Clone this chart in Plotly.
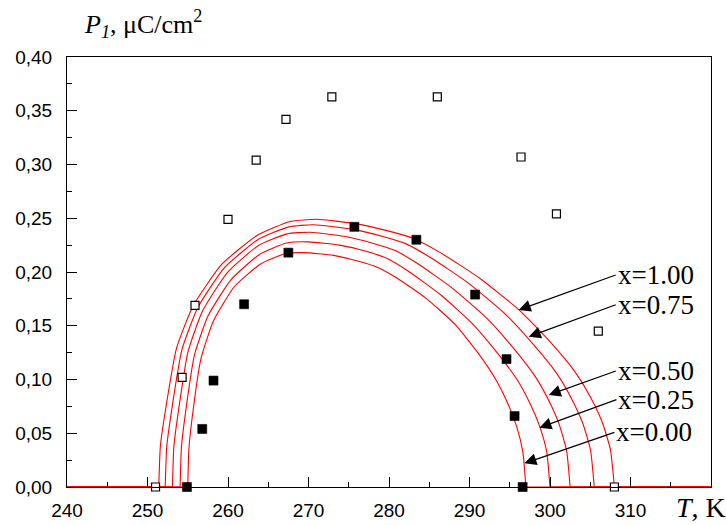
import plotly.graph_objects as go

# ---- data ----
open_T = [251.0, 254.3, 255.9, 260.0, 263.5, 267.2, 272.9, 286.0, 296.4, 300.8, 306.0, 308.0]
open_P = [0.000, 0.102, 0.169, 0.249, 0.304, 0.342, 0.363, 0.363, 0.307, 0.254, 0.145, 0.000]

fill_T = [254.9, 256.8, 258.2, 262.0, 267.5, 275.7, 283.4, 290.7, 294.6, 295.6, 296.6]
fill_P = [0.000, 0.054, 0.099, 0.170, 0.218, 0.242, 0.230, 0.179, 0.119, 0.066, 0.000]

c100_T = [240.0, 251.40, 251.60, 252.20, 253.60, 255.70, 259.21, 263.60, 267.70, 270.98, 275.79, 279.98,
          283.10, 286.38, 291.30, 296.11, 300.02, 303.02, 305.00, 306.50, 307.50, 308.00, 320.0]
c100_P = [0.0, 0.0, 0.038, 0.070, 0.129, 0.169, 0.207, 0.234, 0.247, 0.249, 0.245, 0.238,
          0.231, 0.218, 0.194, 0.165, 0.135, 0.108, 0.084, 0.060, 0.035, 0.0, 0.0]

c075_T = [240.0, 252.20, 252.39, 252.95, 254.27, 256.25, 259.56, 263.69, 267.55, 270.64, 275.17, 279.12,
          282.05, 285.14, 289.78, 294.31, 297.98, 300.81, 302.68, 304.09, 305.03, 305.50, 320.0]
c075_P = [0.0, 0.0, 0.0373, 0.0690, 0.1275, 0.1670, 0.2040, 0.2300, 0.2420, 0.2440, 0.2401, 0.2333,
          0.2264, 0.2135, 0.1901, 0.1618, 0.1322, 0.1059, 0.0822, 0.0588, 0.0344, 0.0, 0.0]

c050_T = [240.0, 253.10, 253.27, 253.80, 255.02, 256.85, 259.92, 263.75, 267.33, 270.19, 274.39, 278.05,
          280.76, 283.63, 287.93, 292.13, 295.53, 298.15, 299.88, 301.19, 302.07, 302.50, 320.0]
c050_P = [0.0, 0.0, 0.0370, 0.0685, 0.1255, 0.1640, 0.1995, 0.2245, 0.2355, 0.2370, 0.2332, 0.2266,
          0.2199, 0.2074, 0.1846, 0.1571, 0.1285, 0.1029, 0.0799, 0.0571, 0.0334, 0.0, 0.0]

c025_T = [240.0, 254.05, 254.21, 254.70, 255.84, 257.54, 260.39, 263.95, 267.28, 269.95, 273.85, 277.25,
          279.78, 282.45, 286.44, 290.35, 293.52, 295.96, 297.56, 298.78, 299.60, 300.00, 320.0]
c025_P = [0.0, 0.0, 0.0365, 0.0680, 0.1230, 0.1595, 0.1930, 0.2165, 0.2270, 0.2280, 0.2250, 0.2190,
          0.2126, 0.2005, 0.1786, 0.1520, 0.1240, 0.0993, 0.0770, 0.0550, 0.0322, 0.0, 0.0]

c000_T = [240.0, 255.00, 255.15, 255.59, 256.63, 258.19, 260.80, 264.05, 267.10, 269.53, 273.10, 276.21,
          278.52, 280.96, 284.61, 288.18, 291.08, 293.30, 294.77, 295.89, 296.63, 297.00, 320.0]
c000_P = [0.0, 0.0, 0.0360, 0.0670, 0.1190, 0.1545, 0.1865, 0.2075, 0.2170, 0.2180, 0.2155, 0.2100,
          0.2045, 0.1945, 0.1755, 0.1515, 0.1245, 0.0995, 0.0775, 0.0555, 0.0325, 0.0, 0.0]

x_ticks = [240, 250, 260, 270, 280, 290, 300, 310]
y_ticks = [0.0, 0.05, 0.10, 0.15, 0.20, 0.25, 0.30, 0.35, 0.40]
y_labels = ["0,00", "0,05", "0,10", "0,15", "0,20", "0,25", "0,30", "0,35", "0,40"]

curve_labels = ["x=1.00", "x=0.75", "x=0.50", "x=0.25", "x=0.00"]
arrow_tip_T = [296.11, 297.36, 299.85, 298.69, 296.82]
arrow_tip_P = [0.1647, 0.1398, 0.0856, 0.0552, 0.0220]

# ---- figure ----
fig = go.Figure()
red_line = dict(color="#ff0000", width=1.1)
for T, P in [(c100_T, c100_P), (c075_T, c075_P), (c050_T, c050_P), (c025_T, c025_P), (c000_T, c000_P)]:
    # zero segments below T1 and above T2
    fig.add_trace(go.Scatter(x=T[:2], y=P[:2], mode="lines", line=red_line, showlegend=False, hoverinfo="skip"))
    fig.add_trace(go.Scatter(x=T[-2:], y=P[-2:], mode="lines", line=red_line, showlegend=False, hoverinfo="skip"))
    # polar phase arc
    fig.add_trace(go.Scatter(x=T[1:-1], y=P[1:-1], mode="lines",
                             line=dict(color="#ff0000", width=1.1, shape="spline", smoothing=0.5),
                             showlegend=False, hoverinfo="skip"))

fig.add_trace(go.Scatter(x=open_T, y=open_P, mode="markers", cliponaxis=False, showlegend=False,
                         marker=dict(symbol="square", size=8, color="white", line=dict(color="black", width=1.2))))
fig.add_trace(go.Scatter(x=fill_T, y=fill_P, mode="markers", cliponaxis=False, showlegend=False,
                         marker=dict(symbol="square", size=9, color="black", line=dict(color="black", width=0.6))))

tick_font = dict(family="Liberation Sans, Arial, sans-serif", size=19, color="black")
fig.update_xaxes(range=[240, 320], tickmode="array", tickvals=x_ticks, ticktext=[str(v) for v in x_ticks],
                 ticks="inside", ticklen=10, tickwidth=1, tickcolor="black",
                 minor=dict(tickmode="array", tickvals=[245, 255, 265, 275, 285, 295, 305, 315],
                            ticks="inside", ticklen=5, tickwidth=1, tickcolor="black"),
                 showline=True, linecolor="black", linewidth=1, mirror=True, showgrid=False, zeroline=False,
                 tickfont=tick_font, ticklabelstandoff=6, automargin=False)
fig.update_yaxes(range=[0, 0.4], tickmode="array", tickvals=y_ticks, ticktext=y_labels,
                 ticks="inside", ticklen=10, tickwidth=1, tickcolor="black",
                 minor=dict(tickmode="linear", tick0=0, dtick=0.025,
                            ticks="inside", ticklen=5, tickwidth=1, tickcolor="black"),
                 showline=True, linecolor="black", linewidth=1, mirror=True, showgrid=False, zeroline=False,
                 tickfont=tick_font, ticklabelstandoff=10, automargin=False)

serif = "Liberation Serif, Times New Roman, serif"
annotations = []
offsets = [(97, -35), (87, -32), (67, -24), (77, -28), (90, -31)]
for lab, tT, tP, (ax, ay) in zip(curve_labels, arrow_tip_T, arrow_tip_P, offsets):
    annotations.append(dict(x=tT, y=tP, xref="x", yref="y", text=lab, showarrow=True,
                            ax=ax, ay=ay, xanchor="left", yanchor="middle",
                            arrowhead=2, arrowsize=2.0, arrowwidth=1.2, arrowcolor="black",
                            font=dict(family=serif, size=27, color="black")))
annotations.append(dict(x=(82 - 67) / 644, y=(487 - 24) / 430, xref="paper", yref="paper",
                        text="<i>P</i><sub><i>1</i></sub>, μC/cm<sup>2</sup>", showarrow=False,
                        xanchor="left", yanchor="middle", font=dict(family=serif, size=26, color="black")))
annotations.append(dict(x=(728 - 67) / 644, y=(487 - 508) / 430, xref="paper", yref="paper",
                        text="<i>T</i>, K", showarrow=False,
                        xanchor="right", yanchor="middle", font=dict(family=serif, size=28, color="black")))

fig.update_layout(width=726, height=525, margin=dict(l=67, r=15, t=57, b=38),
                  paper_bgcolor="white", plot_bgcolor="white", annotations=annotations)

fig.write_html("out.html")
